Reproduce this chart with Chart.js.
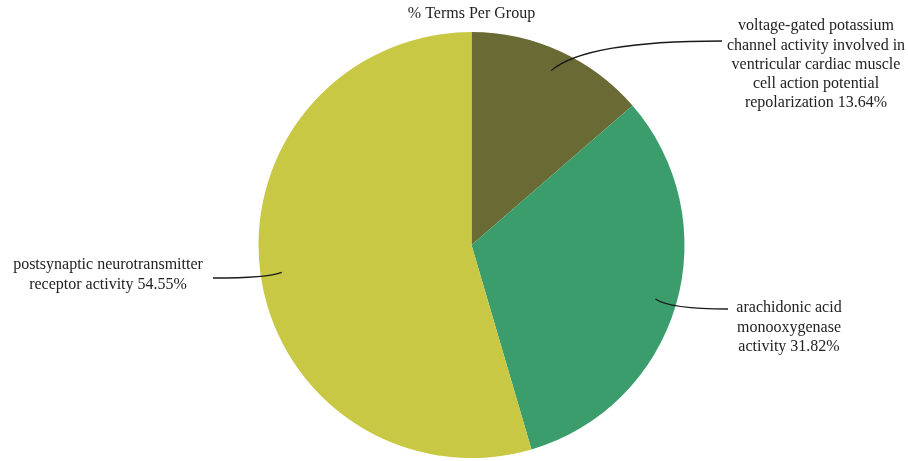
<!DOCTYPE html>
<html>
<head>
<meta charset="utf-8">
<script src="https://cdn.jsdelivr.net/npm/chart.js@4"></script>
<style>
  html, body { margin: 0; padding: 0; background: #ffffff; }
  #wrap { width: 908px; height: 461px; position: relative; }
</style>
</head>
<body>
<div id="wrap"><canvas id="c" width="908" height="461"></canvas></div>
<script>
// Groups, in drawing order (clockwise from 12 o'clock)
const groupNames = [
  ['voltage-gated potassium', 'channel activity involved in', 'ventricular cardiac muscle', 'cell action potential', 'repolarization'],
  ['arachidonic acid', 'monooxygenase', 'activity'],
  ['postsynaptic neurotransmitter', 'receptor activity']
];
const termPercent = [13.64, 31.82, 54.55];
const groupColors = ['#6a6a35', '#3b9d6b', '#c8c845'];
const chartTitle = '% Terms Per Group';

// Where each label block sits (centre x, first-line y) and where its leader ends
const labelLayout = [
  { x: 816, y: 26, endX: 722, endY: 41 },
  { x: 789, y: 308, endX: 728, endY: 309 },
  { x: 108, y: 265, endX: 213, endY: 278 }
];

const FONT = '16px "Liberation Serif", "Times New Roman", serif';
const LINE_H = 19.3;

const labelPlugin = {
  id: 'pieLabels',
  afterDraw(chart) {
    const ctx = chart.ctx;
    const meta = chart.getDatasetMeta(0);
    ctx.save();
    // title
    ctx.fillStyle = '#222';
    ctx.font = '16px "Liberation Serif", "Times New Roman", serif';
    ctx.textAlign = 'center';
    ctx.textBaseline = 'middle';
    const first = meta.data[0];
    ctx.fillText(chartTitle, first.x, 14);

    meta.data.forEach((arc, i) => {
      const p = arc.getProps(['x', 'y', 'startAngle', 'endAngle', 'outerRadius'], true);
      const mid = (p.startAngle + p.endAngle) / 2;
      const r = p.outerRadius * 0.9;
      const sx = p.x + Math.cos(mid) * r;
      const sy = p.y + Math.sin(mid) * r;
      const L = labelLayout[i];
      const cx = sx + (L.endX - sx) * 0.2;
      ctx.beginPath();
      ctx.moveTo(sx, sy);
      ctx.quadraticCurveTo(cx, L.endY, L.endX, L.endY);
      ctx.strokeStyle = '#1a1a1a';
      ctx.lineWidth = 1.3;
      ctx.stroke();

      const lines = groupNames[i].slice();
      lines[lines.length - 1] += ' ' + termPercent[i].toFixed(2) + '%';
      ctx.font = FONT;
      ctx.fillStyle = '#222';
      ctx.textAlign = 'center';
      ctx.textBaseline = 'middle';
      lines.forEach((t, k) => ctx.fillText(t, L.x, L.y + k * LINE_H));
    });
    ctx.restore();
  }
};

new Chart(document.getElementById('c'), {
  type: 'pie',
  data: {
    labels: groupNames.map(n => n.join(' ')),
    datasets: [{
      data: termPercent,
      backgroundColor: groupColors,
      borderWidth: 0
    }]
  },
  options: {
    responsive: false,
    animation: false,
    layout: { padding: { top: 32, bottom: 3, left: 35, right: 0 } },
    plugins: {
      legend: { display: false },
      tooltip: { enabled: false },
      title: { display: false }
    }
  },
  plugins: [labelPlugin]
});
</script>
</body>
</html>
